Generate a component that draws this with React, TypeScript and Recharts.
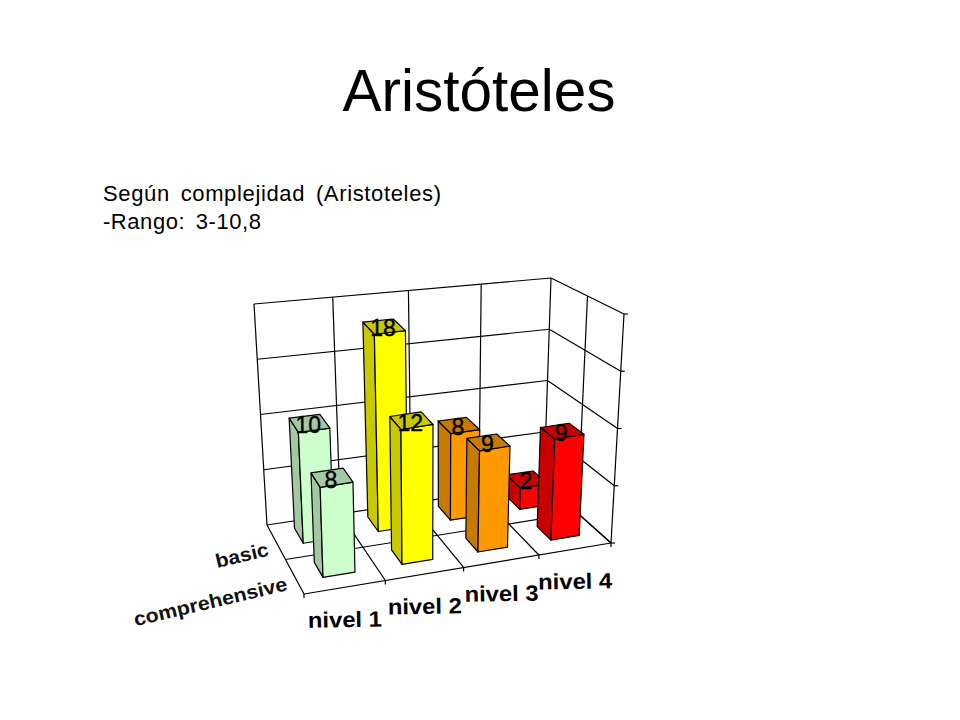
import { Bar, BarChart, CartesianGrid, XAxis, YAxis } from "recharts";

const categories = ["nivel 1", "nivel 2", "nivel 3", "nivel 4"];
const basicValues = [10, 18, 8, 2];
const comprehensiveValues = [8, 12, 9, 9];
const valueTicks = [0, 5, 10, 15, 20];

const rows = categories.map((name, i) => ({
  name,
  basic: basicValues[i],
  comprehensive: comprehensiveValues[i],
}));

const FONT = '"Liberation Sans", Arial, sans-serif';
const frontFaces = ["#CCFFCC", "#FFFF00", "#FF9900", "#FF0000"];
const sideFaces = ["#A3C8A3", "#C9C900", "#C67A00", "#C80000"];

const axisHeight = 20;
const margin = { left: 270, right: 340, top: 290, bottom: 150 };
const plotW = 960 - margin.left - margin.right;
const plotBottom = 720 - margin.bottom - axisHeight;
const plotH = plotBottom - margin.top;

// corners of the 3d box on the page, [floor, top]
const box = {
  backLeft: [[267, 525], [254, 304]],
  backRight: [[544, 483], [551, 278]],
  frontLeft: [[304, 594], [296, 368]],
  frontRight: [[611, 543], [624, 314]],
};

const lerp = (a: number, b: number, k: number) => a + (b - a) * k;

function project(rawU: number, d: number, t: number): [number, number] {
  // slight perspective: the middle of the x axis sits right of its linear place
  const u = rawU + 0.08 * rawU * (1 - rawU);
  const at = (i: number) => {
    const bl = lerp(box.backLeft[0][i], box.backLeft[1][i], t);
    const br = lerp(box.backRight[0][i], box.backRight[1][i], t);
    const fl = lerp(box.frontLeft[0][i], box.frontLeft[1][i], t);
    const fr = lerp(box.frontRight[0][i], box.frontRight[1][i], t);
    return lerp(lerp(bl, br, u), lerp(fl, fr, u), d);
  };
  return [at(0), at(1)];
}

const uOf = (x: number) => (x - margin.left) / plotW;
const tOf = (y: number) => (plotBottom - y) / plotH;

const pts = (list: [number, number][]) => list.map((p) => p.join(",")).join(" ");

const depths: Record<string, [number, number]> = {
  basic: [0.1, 0.32],
  comprehensive: [0.6, 0.82],
};

const LINE = 1.2;

function Box3D(props: any) {
  const { x, y, width, height, index, seriesKey, payload } = props;
  const [d0, d1] = depths[seriesKey];
  const shift = 0.005;
  const u0 = uOf(x) + shift;
  const u1 = uOf(x + width) + shift;
  const top = tOf(y);
  const bot = tOf(y + height);
  const line = { stroke: "#000", strokeWidth: LINE, strokeLinejoin: "round" as const };
  const [lx, ly] = project((u0 + u1) / 2, (d0 + d1) / 2, top);
  return (
    <g>
      <polygon
        points={pts([project(u0, d0, bot), project(u0, d1, bot), project(u0, d1, top), project(u0, d0, top)])}
        fill={sideFaces[index]}
        {...line}
      />
      <polygon
        points={pts([project(u0, d1, bot), project(u1, d1, bot), project(u1, d1, top), project(u0, d1, top)])}
        fill={frontFaces[index]}
        {...line}
      />
      <polygon
        points={pts([project(u0, d0, top), project(u1, d0, top), project(u1, d1, top), project(u0, d1, top)])}
        fill={sideFaces[index]}
        {...line}
      />
      <text
        x={lx - 1}
        y={ly + 10}
        textAnchor="middle"
        fontFamily={FONT}
        fontSize={23}
        fill="#000"
        stroke="#000"
        strokeWidth={0.4}
      >
        {payload[seriesKey]}
      </text>
    </g>
  );
}

function Seg({ a, b }: { a: [number, number]; b: [number, number] }) {
  return <line x1={a[0]} y1={a[1]} x2={b[0]} y2={b[1]} stroke="#000" strokeWidth={LINE} />;
}

function renderRow(p: any) {
  const t = tOf(p.y1);
  const end = project(1, 1, t);
  return (
    <g key={p.key ?? `h-${p.index}`}>
      <Seg a={project(0, 0, t)} b={project(1, 0, t)} />
      <Seg a={project(1, 0, t)} b={end} />
      <Seg a={end} b={[end[0] + 4, end[1]]} />
    </g>
  );
}

function renderColumn(p: any) {
  const u = uOf(p.x1);
  const front = project(u, 1, 0);
  return (
    <g key={p.key ?? `v-${p.index}`}>
      <Seg a={project(u, 0, 1)} b={project(u, 0, 0)} />
      <Seg a={project(u, 0, 0)} b={front} />
      <Seg a={front} b={[front[0], front[1] + 4]} />
    </g>
  );
}

function FloorAndSideWall() {
  return (
    <g>
      <Seg a={project(0, 0.5, 0)} b={project(1, 0.5, 0)} />
      <Seg a={project(0, 1, 0)} b={project(1, 1, 0)} />
      <Seg a={project(1, 0.5, 1)} b={project(1, 0.5, 0)} />
      <Seg a={project(1, 1, 1)} b={project(1, 1, 0)} />
    </g>
  );
}

function CategoryTick(props: any) {
  const { x, payload } = props;
  const [px, py] = project(uOf(x), 1, 0);
  return (
    <text
      x={px}
      y={py + 40}
      textAnchor="middle"
      fontFamily={FONT}
      fontWeight="bold"
      fontSize={22}
      fill="#000"
      textLength={74}
      lengthAdjust="spacingAndGlyphs"
      transform={`rotate(-1 ${px} ${py + 40})`}
    >
      {payload.value}
    </text>
  );
}

function SeriesLabel({ seriesKey, length }: { seriesKey: string; length: number }) {
  const [d0, d1] = depths[seriesKey];
  const [ex, ey] = project(0, (d0 + d1) / 2, 0);
  const px = ex - 5;
  const py = ey + 16;
  return (
    <text
      transform={`translate(${px} ${py}) rotate(-13.4) translate(${-length} 0)`}
      fontFamily={FONT}
      fontWeight="bold"
      fontSize={19.5}
      fill="#111"
      textLength={length}
      lengthAdjust="spacingAndGlyphs"
    >
      {seriesKey}
    </text>
  );
}

export default function App() {
  return (
    <div style={{ position: "absolute", left: 0, top: 0, width: 960, height: 720, background: "#fff" }}>
      <BarChart width={960} height={720} data={rows} margin={margin} barSize={35} barGap={-35}>
        <text x={479} y={111} textAnchor="middle" fontFamily={FONT} fontSize={58.5} fill="#000">
          Aristóteles
        </text>
        <text x={103} y={201} fontFamily={FONT} fontSize={22} fill="#000" wordSpacing={4} textLength={338}>
          Según complejidad (Aristoteles)
        </text>
        <text x={103} y={229} fontFamily={FONT} fontSize={22} fill="#000" wordSpacing={4} textLength={158}>
          -Rango: 3-10,8
        </text>
        <CartesianGrid
          horizontal={renderRow}
          vertical={renderColumn}
          verticalCoordinatesGenerator={({ offset }: any) =>
            [0, ...categories.map((_, i) => i + 1)].map((i) => offset.left + (i * offset.width) / categories.length)
          }
        />
        <XAxis
          dataKey="name"
          height={axisHeight}
          axisLine={false}
          tickLine={false}
          tick={(p: any) => <CategoryTick {...p} />}
          interval={0}
        />
        <YAxis hide width={0} domain={[0, 20]} ticks={valueTicks} />
        <FloorAndSideWall />
        <Bar
          dataKey="basic"
          isAnimationActive={false}
          shape={(p: any) => <Box3D {...p} seriesKey="basic" />}
        />
        <Bar
          dataKey="comprehensive"
          isAnimationActive={false}
          shape={(p: any) => <Box3D {...p} seriesKey="comprehensive" />}
        />
        <SeriesLabel seriesKey="basic" length={54} />
        <SeriesLabel seriesKey="comprehensive" length={157} />
      </BarChart>
    </div>
  );
}
